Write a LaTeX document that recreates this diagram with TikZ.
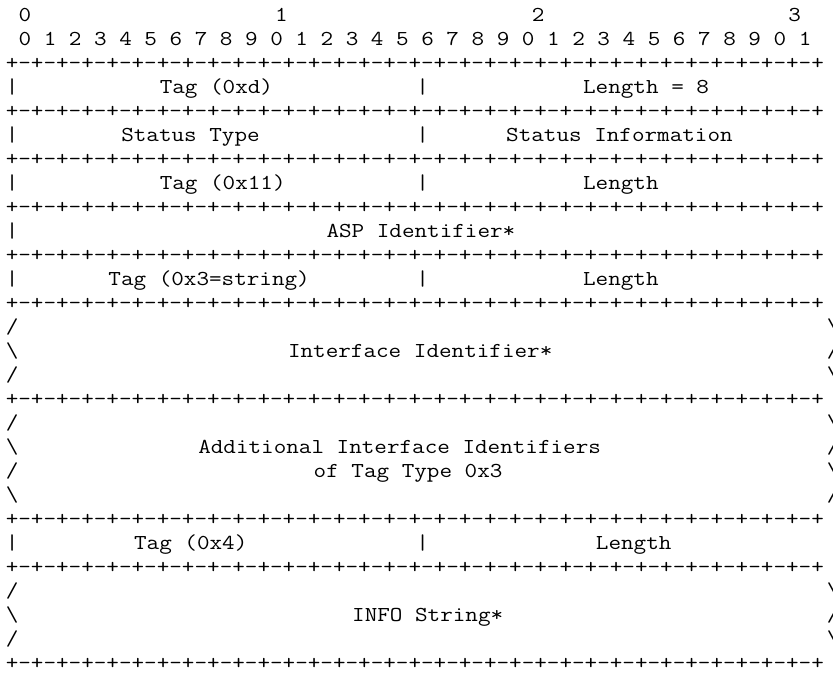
\documentclass[tikz,border=0pt]{standalone}
\usepackage{fontspec}
\newcommand{\mono}[1]{\scalebox{1.15}[1]{#1}}
\newcommand{\sepeight}{+-+-+-+-+-+-+-+-}
\newcommand{\sepline}{\sepeight\sepeight\sepeight\sepeight+}
\newcommand{\bsl}{\textbackslash}
\begin{document}
\begin{tikzpicture}[
  txt/.style={anchor=base west, inner sep=0pt, outer sep=0pt,
    font=\fontsize{21.25bp}{24bp}\selectfont\ttfamily, text=black}
]
\useasboundingbox (0bp,0bp) rectangle (833bp,-675bp);
\fill[white] (0bp,0bp) rectangle (833bp,-675bp);
\begin{scope}[shift={(5.8bp,-21bp)}, x=12.83bp, y=-24bp]
  % bit ruler
  \node[txt] (h0) at (1,0) {\mono{0}};
  \node[txt] (h1) at (21,0) {\mono{1}};
  \node[txt] (h2) at (41,0) {\mono{2}};
  \node[txt] (h3) at (61,0) {\mono{3}};
  \node[txt] (bits) at (1,1) {\mono{0 1 2 3 4 5 6 7 8 9 0 1 2 3 4 5 6 7 8 9 0 1 2 3 4 5 6 7 8 9 0 1}};
  % separator lines
  \foreach \r/\n in {3/s1,5/s2,7/s3,9/s4,11/s5,13/s6,17/s7,22/s8,24/s9,28/s10}
    \node[txt] (\n) at (0,\r-1) {\mono{\sepline}};
  % row 4
  \node[txt] (l4) at (0,3) {\mono{|}};
  \node[txt] (t4a) at (12,3) {\mono{Tag (0xd)}};
  \node[txt] (m4) at (32,3) {\mono{|}};
  \node[txt] (t4b) at (45,3) {\mono{Length = 8}};
  % row 6
  \node[txt] (l6) at (0,5) {\mono{|}};
  \node[txt] (t6a) at (9,5) {\mono{Status Type}};
  \node[txt] (m6) at (32,5) {\mono{|}};
  \node[txt] (t6b) at (39,5) {\mono{Status Information}};
  % row 8
  \node[txt] (l8) at (0,7) {\mono{|}};
  \node[txt] (t8a) at (12,7) {\mono{Tag (0x11)}};
  \node[txt] (m8) at (32,7) {\mono{|}};
  \node[txt] (t8b) at (45,7) {\mono{Length}};
  % row 10
  \node[txt] (l10) at (0,9) {\mono{|}};
  \node[txt] (t10) at (25,9) {\mono{ASP Identifier*}};
  % row 12
  \node[txt] (l12) at (0,11) {\mono{|}};
  \node[txt] (t12a) at (8,11) {\mono{Tag (0x3=string)}};
  \node[txt] (m12) at (32,11) {\mono{|}};
  \node[txt] (t12b) at (45,11) {\mono{Length}};
  % rows 14-16
  \node[txt] (l14) at (0,13) {\mono{/}};
  \node[txt] (r14) at (64,13) {\mono{\bsl}};
  \node[txt] (l15) at (0,14) {\mono{\bsl}};
  \node[txt] (t15) at (22,14) {\mono{Interface Identifier*}};
  \node[txt] (r15) at (64,14) {\mono{/}};
  \node[txt] (l16) at (0,15) {\mono{/}};
  \node[txt] (r16) at (64,15) {\mono{\bsl}};
  % rows 18-21
  \node[txt] (l18) at (0,17) {\mono{/}};
  \node[txt] (r18) at (64,17) {\mono{\bsl}};
  \node[txt] (l19) at (0,18) {\mono{\bsl}};
  \node[txt] (t19) at (15,18) {\mono{Additional Interface Identifiers}};
  \node[txt] (r19) at (64,18) {\mono{/}};
  \node[txt] (l20) at (0,19) {\mono{/}};
  \node[txt] (t20) at (24,19) {\mono{of Tag Type 0x3}};
  \node[txt] (r20) at (64,19) {\mono{\bsl}};
  \node[txt] (l21) at (0,20) {\mono{\bsl}};
  \node[txt] (r21) at (64,20) {\mono{/}};
  % row 23
  \node[txt] (l23) at (0,22) {\mono{|}};
  \node[txt] (t23a) at (10,22) {\mono{Tag (0x4)}};
  \node[txt] (m23) at (32,22) {\mono{|}};
  \node[txt] (t23b) at (46,22) {\mono{Length}};
  % rows 25-27
  \node[txt] (l25) at (0,24) {\mono{/}};
  \node[txt] (r25) at (64,24) {\mono{\bsl}};
  \node[txt] (l26) at (0,25) {\mono{\bsl}};
  \node[txt] (t26) at (27,25) {\mono{INFO String*}};
  \node[txt] (r26) at (64,25) {\mono{/}};
  \node[txt] (l27) at (0,26) {\mono{/}};
  \node[txt] (r27) at (64,26) {\mono{\bsl}};
\end{scope}
\end{tikzpicture}
\end{document}
